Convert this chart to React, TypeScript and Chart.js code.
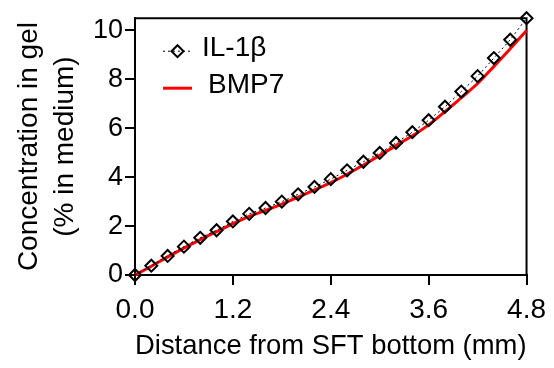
import React, { useEffect, useRef } from "react";
import { Chart, registerables } from "chart.js";

Chart.register(...registerables);

const distance = [0, 0.2, 0.4, 0.6, 0.8, 1.0, 1.2, 1.4, 1.6, 1.8, 2.0, 2.2, 2.4, 2.6, 2.8, 3.0, 3.2, 3.4, 3.6, 3.8, 4.0, 4.2, 4.4, 4.6, 4.8];
const il1b = [0, 0.38, 0.78, 1.16, 1.52, 1.83, 2.19, 2.5, 2.74, 3.0, 3.3, 3.6, 3.92, 4.28, 4.63, 4.99, 5.4, 5.84, 6.33, 6.88, 7.5, 8.13, 8.87, 9.62, 10.5];
const bmp7 = [0, 0.36, 0.74, 1.1, 1.45, 1.77, 2.1, 2.4, 2.64, 2.9, 3.18, 3.48, 3.78, 4.12, 4.5, 4.89, 5.29, 5.69, 6.14, 6.68, 7.25, 7.83, 8.53, 9.25, 10.0];
const xTicks = [0, 1.2, 2.4, 3.6, 4.8];
const yTicks = [0, 2, 4, 6, 8, 10];
const seriesNames = ["IL-1\u03b2", "BMP7"];
const xTitle = "Distance from SFT bottom (mm)";
const yTitle = ["Concentration in gel", "(% in medium)"];

const FONT = "'Liberation Sans', Arial, sans-serif";

const framePlugin = {
  id: "frame",
  beforeDatasetsDraw(chart: any) {
    const { ctx, chartArea } = chart;
    ctx.save();
    ctx.strokeStyle = "#000";
    ctx.lineWidth = 2;
    ctx.beginPath();
    ctx.moveTo(chartArea.left, chartArea.top);
    ctx.lineTo(chartArea.right, chartArea.top);
    ctx.lineTo(chartArea.right, chartArea.bottom);
    ctx.stroke();
    ctx.restore();
  },
};

const legendPlugin = {
  id: "insideLegend",
  afterDraw(chart: any) {
    const { ctx, chartArea } = chart;
    const x0 = chartArea.left + 28;
    const x1 = chartArea.left + 57;
    ctx.save();
    const y1 = chartArea.top + 33;
    ctx.strokeStyle = "#000";
    ctx.lineWidth = 1;
    ctx.setLineDash([2, 3]);
    ctx.beginPath();
    ctx.moveTo(x0, y1);
    ctx.lineTo(x1, y1);
    ctx.stroke();
    ctx.setLineDash([]);
    ctx.lineWidth = 2;
    const cx = (x0 + x1) / 2;
    const r = 6;
    ctx.beginPath();
    ctx.moveTo(cx - r, y1);
    ctx.lineTo(cx, y1 - r);
    ctx.lineTo(cx + r, y1);
    ctx.lineTo(cx, y1 + r);
    ctx.closePath();
    ctx.stroke();
    ctx.fillStyle = "#000";
    ctx.font = `28px ${FONT}`;
    ctx.textBaseline = "middle";
    ctx.textAlign = "left";
    ctx.fillText(seriesNames[0], chartArea.left + 67, chartArea.top + 30);
    const y2 = chartArea.top + 70;
    ctx.strokeStyle = "#ff0000";
    ctx.lineWidth = 3;
    ctx.beginPath();
    ctx.moveTo(x0, y2);
    ctx.lineTo(x1, y2);
    ctx.stroke();
    ctx.fillText(seriesNames[1], chartArea.left + 73, chartArea.top + 67);
    ctx.restore();
  },
};

export default function App() {
  const ref = useRef<HTMLCanvasElement>(null);
  useEffect(() => {
    document.body.style.margin = "0";
    const chart = new Chart(ref.current as HTMLCanvasElement, {
      type: "line",
      data: {
        datasets: [
          {
            label: seriesNames[0],
            data: distance.map((x, i) => ({ x, y: il1b[i] })),
            borderColor: "#000",
            borderWidth: 1,
            borderDash: [2, 3],
            pointStyle: "rectRot",
            pointRadius: 6,
            pointBorderWidth: 2,
            pointBorderColor: "#000",
            pointBackgroundColor: "rgba(0,0,0,0)",
            tension: 0,
            clip: false,
          } as any,
          {
            label: seriesNames[1],
            data: distance.map((x, i) => ({ x, y: bmp7[i] })),
            borderColor: "#ff0000",
            borderWidth: 3,
            pointRadius: 0,
            cubicInterpolationMode: "monotone",
            clip: false,
          } as any,
        ],
      },
      options: {
        responsive: false,
        animation: false,
        layout: { padding: { left: 0, top: 15, right: 26, bottom: 0 } },
        plugins: { legend: { display: false }, tooltip: { enabled: false } },
        scales: {
          x: {
            type: "linear",
            min: 0,
            max: 4.8,
            afterBuildTicks: (s: any) => {
              s.ticks = xTicks.map((v) => ({ value: v }));
            },
            afterFit: (s: any) => {
              s.height = 93;
            },
            ticks: {
              color: "#000",
              font: { family: FONT, size: 28 },
              padding: 8,
              maxRotation: 0,
              autoSkip: false,
              callback: (v: any) => Number(v).toFixed(1),
            },
            grid: { drawOnChartArea: false, drawTicks: true, tickLength: 10, color: "#000", lineWidth: 2 },
            border: { display: true, color: "#000", width: 2 },
            title: {
              display: true,
              text: xTitle,
              color: "#000",
              font: { family: FONT, size: 28.5, lineHeight: 1.2 },
              padding: { top: 0, bottom: 5 },
            },
          },
          y: {
            type: "linear",
            min: 0,
            max: 10.5,
            afterBuildTicks: (s: any) => {
              s.ticks = yTicks.map((v) => ({ value: v }));
            },
            afterFit: (s: any) => {
              s.width = 135;
            },
            ticks: {
              color: "#000",
              font: { family: FONT, size: 27 },
              padding: 2,
              callback: (v: any) => String(v),
            },
            grid: { drawOnChartArea: false, drawTicks: true, tickLength: 10, color: "#000", lineWidth: 2 },
            border: { display: true, color: "#000", width: 2 },
            title: {
              display: true,
              text: yTitle,
              color: "#000",
              font: { family: FONT, size: 28, lineHeight: 1.3 },
              padding: { top: 11, bottom: 0 },
            },
          },
        },
      },
      plugins: [framePlugin, legendPlugin],
    });
    return () => chart.destroy();
  }, []);
  return (
    <div style={{ width: 554, height: 368 }}>
      <canvas ref={ref} width={554} height={368} />
    </div>
  );
}
